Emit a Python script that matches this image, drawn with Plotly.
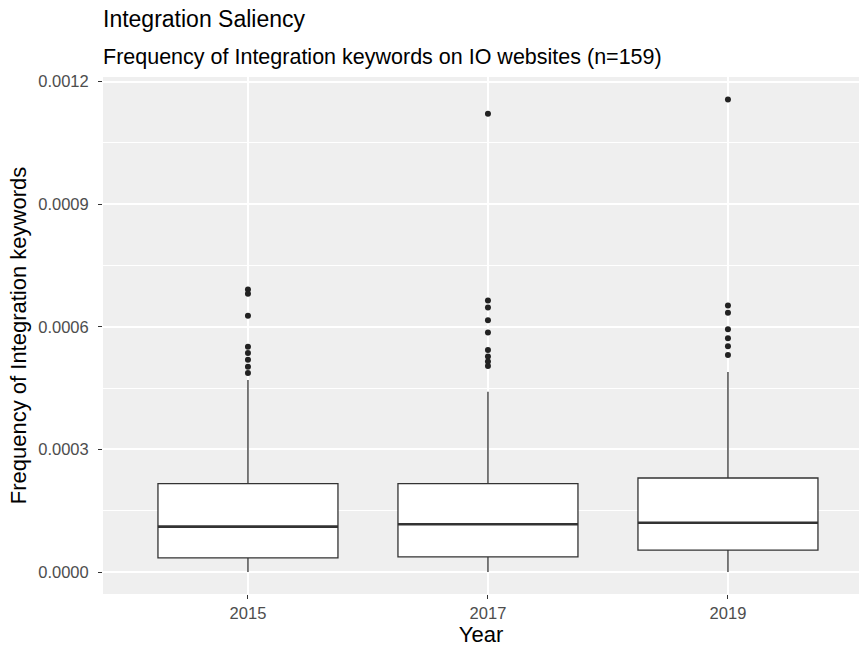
import plotly.graph_objects as go

# Summary statistics of keyword frequency per survey year
years = ["2015", "2017", "2019"]
q1 = [0.0000344, 0.0000369, 0.0000534]
medians = [0.000111, 0.000117, 0.0001205]
q3 = [0.000216, 0.000216, 0.000230]
lower_fence = [0.0, 0.0, 0.0]
upper_fence = [0.000470, 0.000441, 0.000489]

# Outlying websites per year
outliers_2015 = [0.000691, 0.000681, 0.000627, 0.000551, 0.000536, 0.000519, 0.000502, 0.000487]
outliers_2017 = [0.001121, 0.000664, 0.000647, 0.000616, 0.000586, 0.000543, 0.000527, 0.000515, 0.000504]
outliers_2019 = [0.001156, 0.000652, 0.000634, 0.000594, 0.000572, 0.000552, 0.000531]
outliers = [outliers_2015, outliers_2017, outliers_2019]

y_ticks = [0.0, 0.0003, 0.0006, 0.0009, 0.0012]
y_tick_labels = ["0.0000", "0.0003", "0.0006", "0.0009", "0.0012"]

FONT = "Arial, Liberation Sans, sans-serif"
INK = "#333333"
BOX_WIDTH = 0.75
positions = list(range(len(years)))

fig = go.Figure()

fig.add_trace(go.Box(
    x=positions,
    q1=q1, median=medians, q3=q3,
    lowerfence=lower_fence, upperfence=upper_fence,
    width=BOX_WIDTH,
    whiskerwidth=0,
    fillcolor="white",
    line=dict(color=INK, width=1.3),
    boxpoints=False,
    showlegend=False,
    hoverinfo="skip",
))

# Thicker median bars on top of each box
for pos, med in zip(positions, medians):
    fig.add_trace(go.Scatter(
        x=[pos - BOX_WIDTH / 2, pos + BOX_WIDTH / 2], y=[med, med],
        mode="lines", line=dict(color=INK, width=2.6),
        showlegend=False, hoverinfo="skip",
    ))

for pos, pts in zip(positions, outliers):
    fig.add_trace(go.Scatter(
        x=[pos] * len(pts), y=pts, mode="markers",
        marker=dict(color="#222222", size=6),
        showlegend=False, hoverinfo="skip",
    ))

fig.update_layout(
    width=859, height=655,
    margin=dict(l=103, r=0, t=77, b=61),
    paper_bgcolor="white",
    plot_bgcolor="#EFEFEF",
    font=dict(family=FONT, color="black"),
    title=dict(
        text="Integration Saliency",
        font=dict(family=FONT, size=23, color="black"),
        x=103 / 859, xanchor="left", xref="container",
        y=1 - 19 / 655, yanchor="middle", yref="container",
    ),
    annotations=[dict(
        text="Frequency of Integration keywords on IO websites (n=159)",
        xref="paper", yref="paper", x=0, xanchor="left", xshift=-2,
        y=(655 - 61 - 57) / (655 - 77 - 61), yanchor="middle",
        showarrow=False, font=dict(family=FONT, size=21.5, color="black"),
    )],
    xaxis=dict(
        range=[-0.604, 2.546],
        tickmode="array", tickvals=positions, ticktext=years,
        showgrid=True, gridcolor="white", gridwidth=1.5,
        zeroline=False, showline=False,
        ticks="outside", ticklen=4, tickcolor=INK, tickwidth=1,
        tickfont=dict(family=FONT, size=16.5, color="#4D4D4D"),
        title=dict(text="Year", font=dict(family=FONT, size=22, color="black"), standoff=2),
    ),
    yaxis=dict(
        range=[-0.0000538, 0.001211],
        tickmode="array", tickvals=y_ticks, ticktext=y_tick_labels,
        showgrid=True, gridcolor="white", gridwidth=1.5,
        minor=dict(dtick=0.00015, showgrid=True, gridcolor="white", gridwidth=0.8, ticks=""),
        zeroline=False, showline=False,
        ticks="outside", ticklen=4, tickcolor=INK, tickwidth=1,
        ticklabelstandoff=6,
        tickfont=dict(family=FONT, size=16.5, color="#4D4D4D"),
        title=dict(text="Frequency of Integration keywords",
                   font=dict(family=FONT, size=22, color="black"), standoff=5),
    ),
)

fig.write_html("out.html")
